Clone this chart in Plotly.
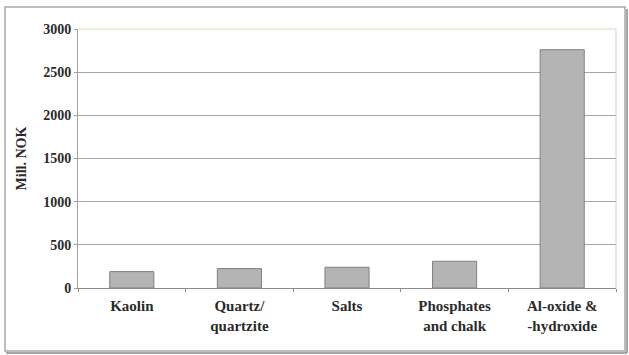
import plotly.graph_objects as go

# Value of production by commodity
categories = ["Kaolin", "Quartz/<br>quartzite", "Salts", "Phosphates<br>and chalk", "Al-oxide &<br>-hydroxide"]
values_mnok = [190, 225, 240, 310, 2760]
y_ticks = [0, 500, 1000, 1500, 2000, 2500, 3000]

W, H = 629, 355
# plot box in pixels
px_left, px_right, px_top, px_bottom = 78, 616, 29, 288

font_family = "Times New Roman, Liberation Serif, serif"
text_color = "#2a2a2a"

fig = go.Figure(
    go.Bar(
        x=categories,
        y=values_mnok,
        marker=dict(color="#b4b4b4", line=dict(color="#808080", width=1)),
        width=0.41,
    )
)

fig.update_layout(
    width=W,
    height=H,
    margin=dict(l=0, r=0, t=0, b=0, autoexpand=False),
    paper_bgcolor="white",
    plot_bgcolor="white",
    showlegend=False,
    font=dict(family=font_family, color=text_color, size=14),
    xaxis=dict(
        domain=[px_left / W, px_right / W],
        type="category",
        automargin=False,
        showgrid=False,
        showline=True,
        linecolor="#8c8c8c",
        linewidth=1,
        ticks="outside",
        tickson="boundaries",
        ticklen=3,
        tickcolor="#8c8c8c",
        ticklabelstandoff=4,
        tickvals=categories,
        ticktext=["<b>" + c.replace("<br>", "</b><br><b>") + "</b>" for c in categories],
        tickfont=dict(family=font_family, size=15, color=text_color),
    ),
    yaxis=dict(
        domain=[(H - px_bottom) / H, (H - px_top) / H],
        range=[0, 3000],
        automargin=False,
        tickvals=y_ticks,
        ticktext=["<b>%d</b>" % v for v in y_ticks],
        showgrid=True,
        gridcolor="#a6a6a6",
        gridwidth=1,
        showline=True,
        linecolor="#a0a0a0",
        linewidth=1,
        ticks="outside",
        ticklen=3,
        tickcolor="#a0a0a0",
        tickfont=dict(family=font_family, size=14, color=text_color),
        title=dict(
            text="<b>Mill. NOK</b>",
            font=dict(family=font_family, size=14, color=text_color),
            standoff=13,
        ),
        zeroline=False,
    ),
    shapes=[
        # right edge of plot box
        dict(type="line", xref="paper", yref="paper",
             x0=px_right / W, x1=px_right / W,
             y0=(H - px_bottom) / H, y1=(H - px_top) / H,
             line=dict(color="#cfcfcf", width=1)),
        # top edge of plot box
        dict(type="line", xref="paper", yref="paper",
             x0=px_left / W, x1=px_right / W,
             y0=(H - px_top) / H, y1=(H - px_top) / H,
             line=dict(color="#d9dcb8", width=1)),
        # outer frame
        dict(type="rect", xref="paper", yref="paper",
             x0=5 / W, x1=625 / W, y0=(H - 351) / H, y1=(H - 7) / H,
             line=dict(color="#a8a8a8", width=1.5)),
        # frame shadow
        dict(type="line", xref="paper", yref="paper",
             x0=6 / W, x1=627 / W, y0=(H - 353) / H, y1=(H - 353) / H,
             line=dict(color="#8a8a8a", width=1.5)),
        dict(type="line", xref="paper", yref="paper",
             x0=627 / W, x1=627 / W, y0=(H - 353) / H, y1=(H - 9) / H,
             line=dict(color="#8a8a8a", width=1.5)),
    ],
)

fig.write_html("out.html")
